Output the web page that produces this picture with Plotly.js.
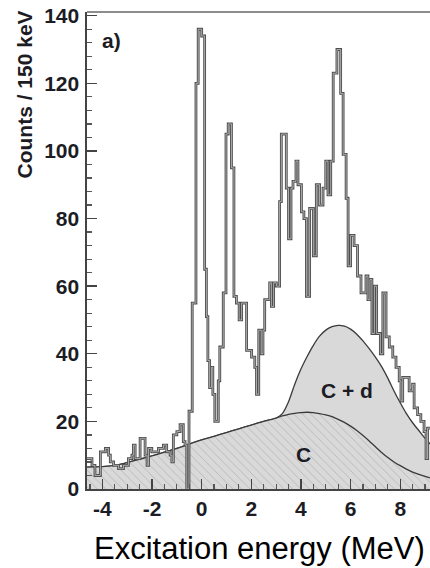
<!DOCTYPE html>
<html>
<head>
<meta charset="utf-8">
<script src="https://cdn.plot.ly/plotly-3.0.1.min.js"></script>
<style>
  html, body { margin: 0; padding: 0; background: #fff; }
  #chart { width: 430px; height: 568px; }
</style>
</head>
<body>
<div id="chart"></div>
<script>
// Measured spectrum: left edge of each step (MeV) and the counts in it
const stepEdges = [
  -4.62, -4.42, -4.30, -4.08, -3.88, -3.75, -3.68, -3.55, -3.35, -3.15,
  -2.95, -2.81, -2.75, -2.68, -2.48, -2.28, -2.20, -2.14, -2.01, -1.74,
  -1.54, -1.41, -1.27, -1.20, -1.14, -1.00, -0.87, -0.74, -0.67, -0.60,
  -0.51, -0.38, -0.23, -0.14, 0.00, 0.12, 0.19, 0.25, 0.32, 0.40,
  0.45, 0.53, 0.67, 0.73, 0.87, 0.98, 1.07, 1.20, 1.30, 1.40,
  1.51, 1.61, 1.81, 2.01, 2.14, 2.21, 2.30, 2.40, 2.47, 2.54,
  2.74, 2.81, 2.90, 3.01, 3.14, 3.21, 3.41, 3.50, 3.60, 3.68,
  3.80, 3.88, 4.02, 4.12, 4.22, 4.35, 4.50, 4.62, 4.75, 4.89,
  5.00, 5.09, 5.20, 5.30, 5.45, 5.60, 5.70, 5.82, 5.90, 6.00,
  6.14, 6.28, 6.42, 6.62, 6.70, 6.78, 6.86, 6.96, 7.05, 7.20,
  7.30, 7.43, 7.56, 7.70, 7.83, 7.96, 8.03, 8.10, 8.36, 8.50,
  8.56, 8.70, 8.83, 8.96, 9.04, 9.10
];
const stepCounts = [
  9, 7, 4, 11, 12, 10, 8, 7, 6, 7,
  9, 10, 13, 9, 15, 10, 7, 12, 11, 12,
  13, 11, 10, 8, 16, 17, 19, 14, 13, 0,
  23, 55, 120, 136, 134, 65, 51, 38, 30, 36,
  28, 20, 32, 42, 58, 105, 108, 95, 57, 55,
  50, 55, 41, 39, 36, 28, 47, 40, 47, 56,
  61, 54, 61, 60, 85, 105, 89, 74, 89, 91,
  97, 90, 82, 80, 57, 83, 69, 90, 84, 89,
  97, 87, 97, 123, 130, 117, 99, 86, 66, 75,
  72, 63, 58, 63, 56, 62, 46, 60, 46, 40,
  58, 45, 42, 39, 36, 32, 26, 33, 29, 31,
  24, 22, 20, 17, 9, 18
];
const lastEdge = 9.2;

// Background model curves: C alone and C + d
const curveE = [
  -4.62, -4.0, -3.5, -3.0, -2.5, -2.0, -1.5, -1.0, -0.5, 0.0,
  0.5, 1.0, 1.5, 2.0, 2.5, 3.0, 3.25, 3.5, 3.75, 4.0,
  4.25, 4.5, 4.75, 5.0, 5.25, 5.5, 5.75, 6.0, 6.25, 6.5,
  6.75, 7.0, 7.25, 7.5, 7.75, 8.0, 8.25, 8.5, 8.75, 9.0, 9.2
];
const curveC = [
  6.5, 6.6, 7.0, 7.8, 8.8, 9.8, 10.9, 12.0, 13.3, 14.5,
  15.6, 16.7, 17.8, 18.9, 20.0, 21.0, 21.6, 22.1, 22.4, 22.6,
  22.7, 22.6, 22.3, 21.9, 21.4, 20.6, 19.7, 18.6, 17.3, 15.8,
  14.2, 12.5, 10.8, 9.3, 8.0, 6.9, 5.9, 5.0, 4.3, 3.7, 3.3
];
const curveCd = [
  6.5, 6.6, 7.0, 7.8, 8.8, 9.8, 10.9, 12.0, 13.3, 14.5,
  15.6, 16.7, 17.8, 18.9, 20.0, 21.0, 22.3, 25.8, 31.0, 35.5,
  39.2, 42.5, 45.2, 47.0, 48.0, 48.4, 48.2, 47.3, 45.8, 43.8,
  41.5, 39.0, 36.2, 32.8, 29.0, 25.5, 22.3, 19.6, 17.3, 15.0, 13.3
];

const xTicks = [-4, -2, 0, 2, 4, 6, 8];
const yTicks = [0, 20, 40, 60, 80, 100, 120, 140];

// step outline: each count holds from its edge to the next one
const histX = stepEdges.concat([lastEdge]);
const histY = stepCounts.concat([stepCounts[stepCounts.length - 1]]);

const fontFam = 'Arial, "Liberation Sans", Helvetica, sans-serif';
const ink = '#1c1c24';
const curveLine = '#3a3a3a';

const traces = [
  {
    x: curveE, y: curveCd, type: 'scatter', mode: 'lines',
    line: { color: curveLine, width: 1.3, shape: 'spline', smoothing: 0.6 },
    fill: 'tozeroy', fillcolor: '#d9d9d9',
    hoverinfo: 'skip'
  },
  {
    x: curveE, y: curveC, type: 'scatter', mode: 'lines',
    line: { color: curveLine, width: 1.3, shape: 'spline', smoothing: 0.6 },
    fill: 'tozeroy', fillcolor: '#d9d9d9',
    fillpattern: { shape: '\\', size: 6, solidity: 0.15, fgcolor: '#b8b8b8', bgcolor: '#d9d9d9' },
    hoverinfo: 'skip'
  },
  {
    x: histX, y: histY, type: 'scatter', mode: 'lines',
    line: { color: '#4f4f4f', width: 2.8, shape: 'hv' },
    hoverinfo: 'skip'
  },
  {
    x: histX, y: histY, type: 'scatter', mode: 'lines',
    line: { color: '#c4c4c4', width: 0.8, shape: 'hv' },
    hoverinfo: 'skip'
  }
];

const layout = {
  width: 430, height: 568,
  margin: { l: 87, r: 0, t: 12, b: 79 },
  paper_bgcolor: '#ffffff', plot_bgcolor: '#ffffff',
  showlegend: false,
  font: { family: fontFam, color: ink },
  xaxis: {
    range: [-4.62, 9.2],
    tickvals: xTicks, ticktext: xTicks.map(String),
    ticks: 'inside', ticklen: 10, tickwidth: 1.4, tickcolor: '#444',
    minor: { dtick: 0.5, ticks: 'inside', ticklen: 5, tickwidth: 1.2, tickcolor: '#555' },
    showline: true, linecolor: '#444', linewidth: 1.6,
    showgrid: false, zeroline: false,
    tickfont: { family: fontFam, size: 21, weight: 'bold', color: ink },
    ticklabelstandoff: 0
  },
  yaxis: {
    range: [0, 141.1],
    tickvals: yTicks, ticktext: yTicks.map(String),
    ticks: 'inside', ticklen: 10, tickwidth: 1.4, tickcolor: '#444',
    minor: { dtick: 4, ticks: 'inside', ticklen: 5, tickwidth: 1.2, tickcolor: '#555' },
    showline: true, linecolor: '#444', linewidth: 1.6,
    showgrid: false, zeroline: false,
    tickfont: { family: fontFam, size: 21, weight: 'bold', color: ink },
    ticklabelstandoff: 2
  },
  shapes: [
    { type: 'line', xref: 'paper', yref: 'paper', x0: 0, x1: 1, y0: 1, y1: 1,
      line: { color: '#8c8c8c', width: 2 } }
  ],
  annotations: [
    { text: 'a)', x: -3.64, y: 132.7, xref: 'x', yref: 'y', showarrow: false,
      font: { family: fontFam, size: 21, weight: 'bold', color: ink } },
    { text: 'C + d', x: 5.85, y: 29, xref: 'x', yref: 'y', showarrow: false,
      font: { family: fontFam, size: 21, weight: 'bold', color: ink } },
    { text: 'C', x: 4.09, y: 10.3, xref: 'x', yref: 'y', showarrow: false,
      font: { family: fontFam, size: 21, weight: 'bold', color: ink } },
    { text: 'Counts / 150 keV', textangle: -90, xref: 'paper', yref: 'paper',
      x: 0, xshift: -63.5, xanchor: 'center', y: 1, yshift: 3, yanchor: 'top',
      showarrow: false,
      font: { family: fontFam, size: 21, weight: 'bold', color: ink } },
    { text: 'Excitation energy (MeV)', xref: 'paper', yref: 'paper',
      x: 0.504, xanchor: 'center', y: 0, yshift: -59, yanchor: 'middle',
      showarrow: false,
      font: { family: fontFam, size: 31, color: '#000000' } }
  ]
};

Plotly.newPlot('chart', traces, layout, { staticPlot: true, displayModeBar: false });
</script>
</body>
</html>
